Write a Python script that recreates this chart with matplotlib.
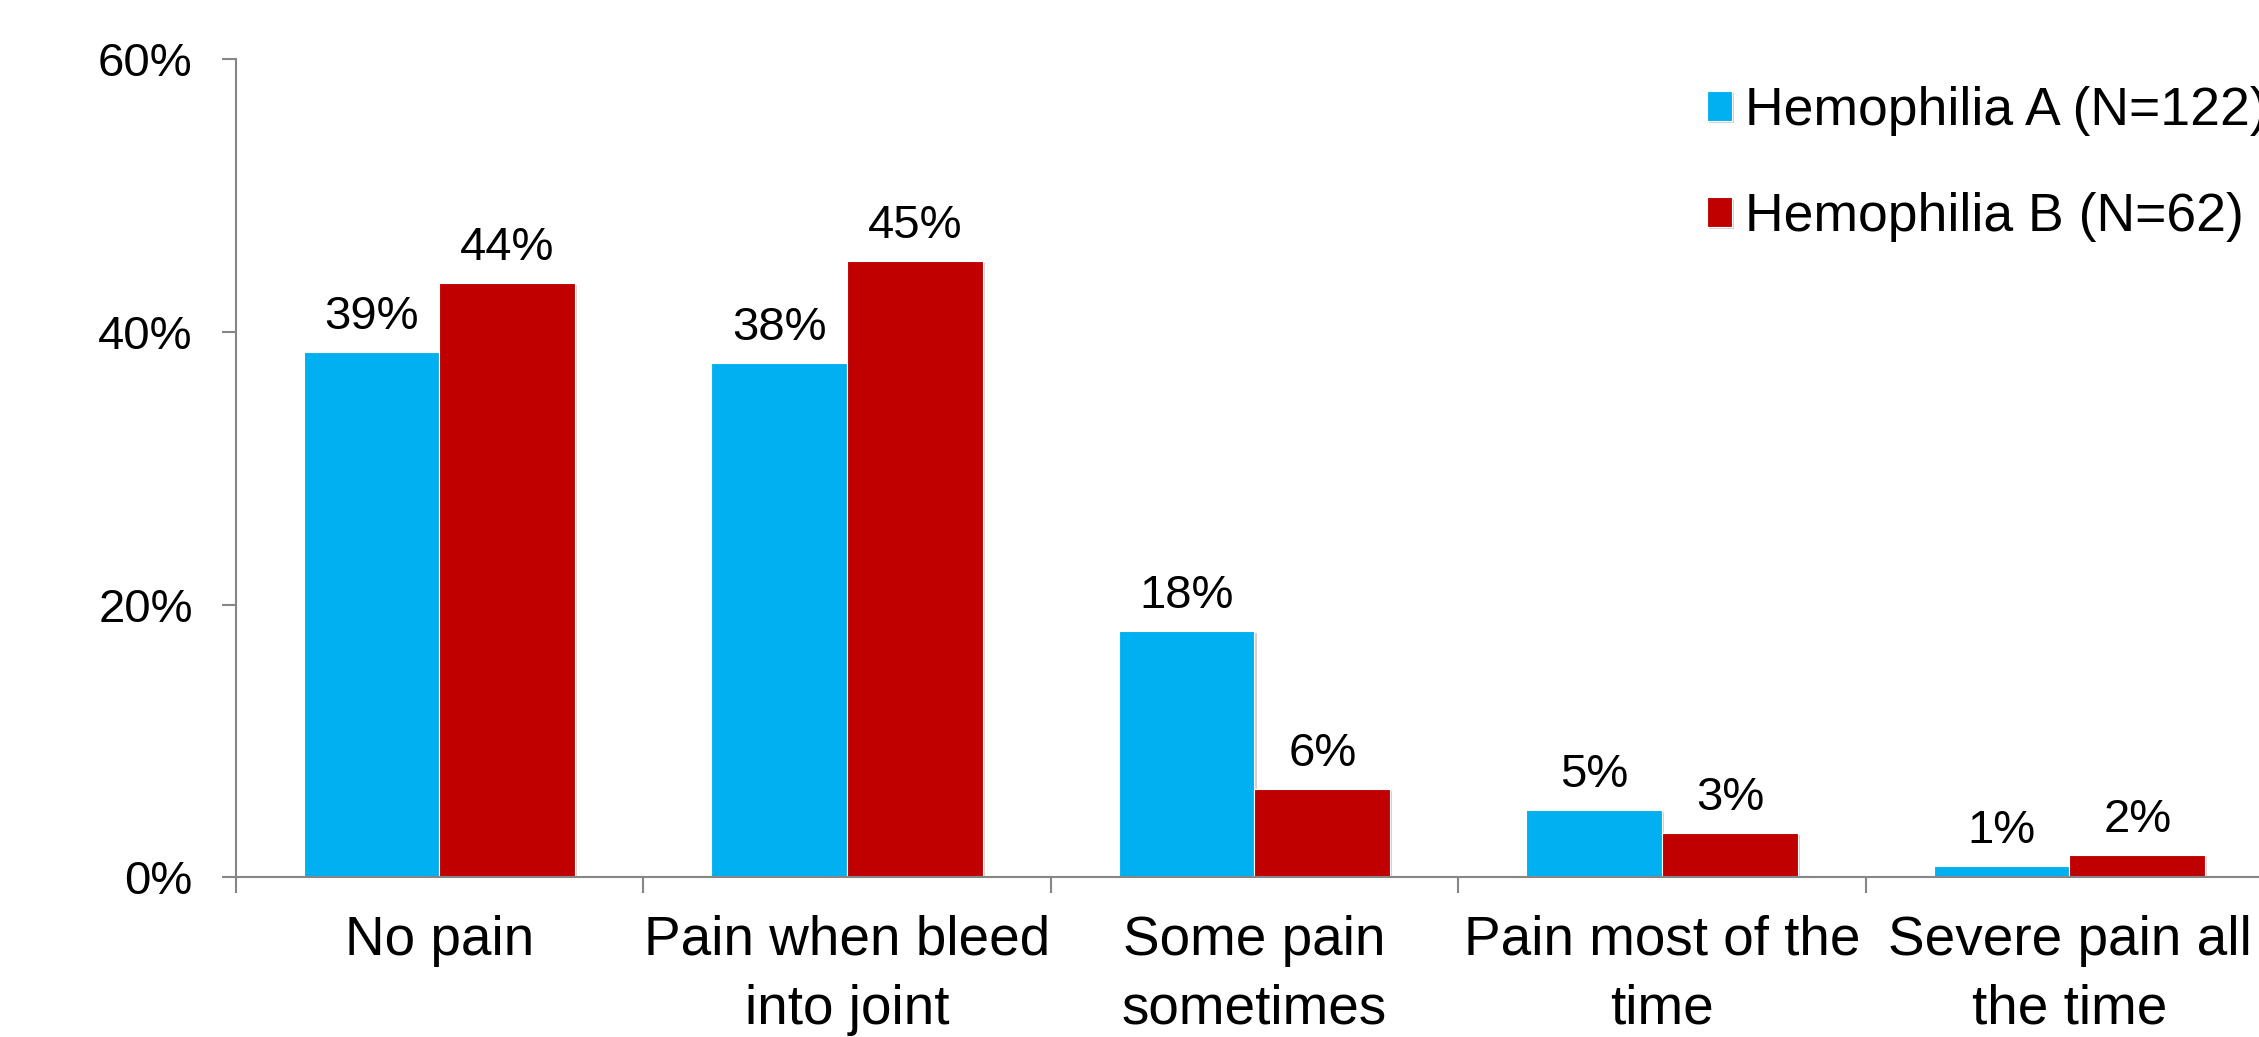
import matplotlib
matplotlib.use("Agg")
import matplotlib.pyplot as plt
import matplotlib.patheffects as pe
from matplotlib.ticker import FixedLocator, FuncFormatter
import numpy as np

plt.rcParams['font.family'] = ['Liberation Sans', 'DejaVu Sans']

# Survey: joint pain by hemophilia type (respondent counts)
categories = ["No pain", "Pain when bleed\ninto joint", "Some pain\nsometimes",
              "Pain most of the\ntime", "Severe pain all\nthe time"]
series_names = ["Hemophilia A (N=122)", "Hemophilia B (N=62)"]
counts_a = [47, 46, 22, 6, 1]
counts_b = [27, 28, 4, 2, 1]
n_a = 122
n_b = 62
y_ticks = [0, 20, 40, 60]

pct_a = [100.0 * c / n_a for c in counts_a]
pct_b = [100.0 * c / n_b for c in counts_b]

color_a = "#00B0F0"
color_b = "#C00000"
axis_grey = "#868686"

fig = plt.figure(figsize=(22.59, 10.37), dpi=100)
ax = fig.add_axes([0.10434, 0.15400, 0.90195, 0.78920])

x = np.arange(len(categories)) + 0.5
w = 1.0 / 3.0
shadow = [pe.withSimplePatchShadow(offset=(1.5, -1.5), shadow_rgbFace="black", alpha=0.18)]

bars_a = ax.bar(x - w / 2, pct_a, width=w, color=color_a, edgecolor="white",
                linewidth=0.8, label=series_names[0], path_effects=shadow, zorder=2)
bars_b = ax.bar(x + w / 2, pct_b, width=w, color=color_b, edgecolor="white",
                linewidth=0.8, label=series_names[1], path_effects=shadow, zorder=2)

for bars, vals in ((bars_a, pct_a), (bars_b, pct_b)):
    for rect, v in zip(bars, vals):
        ax.annotate(f"{v:.0f}%", xy=(rect.get_x() + rect.get_width() / 2, v),
                    xytext=(0, 16.5), textcoords="offset points",
                    ha="center", va="baseline", fontsize=34, color="black")

ax.set_xlim(0, len(categories))
ax.set_ylim(0, 60)

# Category boundaries carry the tick marks, centres carry the labels
ax.xaxis.set_major_locator(FixedLocator(np.arange(len(categories) + 1)))
ax.xaxis.set_minor_locator(FixedLocator(x))
ax.set_xticklabels([], minor=False)
ax.set_xticklabels(categories, minor=True, fontsize=39.5, linespacing=1.42)
ax.tick_params(axis="x", which="major", direction="out", length=11.5, width=1.5,
               color=axis_grey)
ax.tick_params(axis="x", which="minor", length=0, pad=27)

ax.yaxis.set_major_locator(FixedLocator(y_ticks))
ax.yaxis.set_major_formatter(FuncFormatter(lambda v, _: f"{v:.0f}%"))
ax.tick_params(axis="y", direction="out", length=10, width=1.5, color=axis_grey,
               labelsize=34, pad=21)

for side in ("top", "right"):
    ax.spines[side].set_visible(False)
for side in ("left", "bottom"):
    ax.spines[side].set_color(axis_grey)
    ax.spines[side].set_linewidth(1.5)

fig.legend(handles=[bars_a, bars_b], labels=series_names, loc="upper left",
           bbox_to_anchor=(0.7555, 0.917), frameon=False, fontsize=38.5,
           handlelength=0.47, handleheight=0.47, handletextpad=0.25,
           labelspacing=1.05, borderpad=0, borderaxespad=0)

fig.savefig("out.png", dpi=100)
